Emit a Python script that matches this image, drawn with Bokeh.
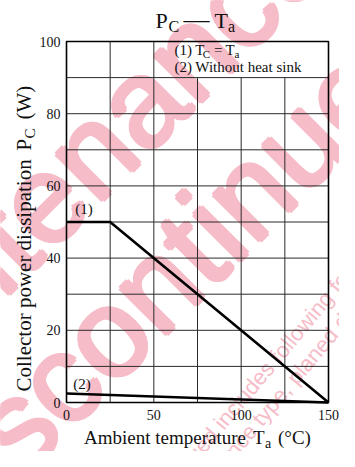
import math
from bokeh.plotting import figure
from bokeh.models import Range1d
from bokeh.core.properties import value
from bokeh.embed import file_html
from bokeh.resources import INLINE

# ---- data ----
ta_case = [0, 25, 150]          # (1) Tc = Ta
pc_case = [50, 50, 0]
ta_free = [0, 150]              # (2) without heat sink
pc_free = [2.5, 0]
x_ticks = [0, 50, 100, 150]
y_ticks = [0, 20, 40, 60, 80, 100]
x_tick_labels = ["0", "50", "100", "150"]
y_tick_labels = ["0", "20", "40", "60", "80", "100"]
x_grid = [25, 50, 75, 100, 125]
y_grid = [10, 20, 30, 40, 50, 60, 70, 80, 90]
legend_box = (50, 90)           # grid left open above/right of this corner
XMAX, YMAX = 150, 100

# ---- layout ----
W, H = 339, 451
CX0, CX1 = 66, 328              # canvas x of data 0 / XMAX
CY0, CY1 = 402, 41              # canvas y of data 0 / YMAX
KX = XMAX / (CX1 - CX0)
KY = YMAX / (CY0 - CY1)
DESC = 0.25                     # baseline correction (fraction of font size)


def cx(px):   # canvas x -> data x
    return (px - CX0) * KX


def cy(py):   # canvas y -> data y
    return (CY0 - py) * KY


def rx(px):   # reference-picture x -> data x
    return (px - 70) * XMAX / 272


def ry(py):   # reference-picture y -> data y
    return (412 - py) * YMAX / 370


p = figure(width=W, height=H,
           x_range=Range1d(cx(0), cx(W)), y_range=Range1d(cy(H), cy(0)),
           x_axis_type=None, y_axis_type=None,
           output_backend="svg", toolbar_location=None, min_border=0)
p.background_fill_color = "white"
p.border_fill_color = "white"
p.outline_line_color = None

SERIF = "Liberation Serif"
SANS = "Liberation Sans"
INK = "#111111"
PINK = "#f6bcc8"


def txt(text, x, y, size, angle=0.0, align="left", font=SERIF, color=INK, alpha=1.0):
    # shift the anchor so that the drawn baseline lands on (x, y)
    sx = -math.sin(angle) * DESC * size * KX
    sy = math.cos(angle) * DESC * size * KY
    p.text(x=[x + sx], y=[y + sy], text=[text], angle=angle,
           text_font=value(font), text_font_size=value(f"{size}px"),
           text_color=color, text_alpha=alpha,
           text_align=align, text_baseline="alphabetic")


# ---- watermark (drawn first, underneath everything) ----
wm_big = [("Maintenance/", 91, 201), ("Discontinued", 193, 303)]
for t, px, py in wm_big:
    for ox, oy in [(0, 0), (3, 0), (0, 3), (3, 3)]:
        txt(t, rx(px + ox), ry(py + oy), 125, angle=math.pi / 4, align="center",
            font=SANS, color=PINK)
wm_small = [("Maintenance/Discontinued includes following four Product lifecycle stage.", 293, 368),
            ("(planed maintenance type, maintenance type, planed discontinued typed, discontinued type)", 306, 396)]
for t, px, py in wm_small:
    txt(t, rx(px), ry(py), 22, angle=math.radians(50), align="center", font=SANS, color=PINK)

# ---- grid ----
GRID = "#2a2a2a"
bx, by = legend_box
p.segment(x0=x_grid, y0=[0] * len(x_grid), x1=x_grid,
          y1=[YMAX if x <= bx else by for x in x_grid],
          line_color=GRID, line_width=1)
p.segment(x0=[0] * len(y_grid), y0=y_grid, x1=[XMAX] * len(y_grid), y1=y_grid,
          line_color=GRID, line_width=1)

# ---- curves ----
p.line(ta_case, pc_case, line_color="black", line_width=2.6)
p.line(ta_free, pc_free, line_color="black", line_width=2.6)

# ---- frame ----
p.quad(left=[0], right=[XMAX], bottom=[0], top=[YMAX],
       fill_color=None, line_color="black", line_width=1.6)

# ---- tick labels ----
p.text(x=x_ticks, y=[cy(CY0 + 7)] * len(x_ticks), text=x_tick_labels,
       text_font=value(SERIF), text_font_size=value("14px"), text_color=INK,
       text_align="center", text_baseline="top")
p.text(x=[cx(CX0 - 6)] * len(y_ticks), y=y_ticks, text=y_tick_labels,
       text_font=value(SERIF), text_font_size=value("14px"), text_color=INK,
       text_align="right", text_baseline="middle")

# curve tags (inside the frame, reference positions)
txt("(1)", rx(79), ry(218), 15)
txt("(2)", rx(77), ry(397), 15)

# legend (inside the frame)
txt("(1) T", rx(182), ry(55), 15)
txt("C", rx(211.5), ry(58), 11)
txt("=", rx(223), ry(55), 15)
txt("T", rx(235), ry(55), 15)
txt("a", rx(244.5), ry(58), 11)
txt("(2) Without heat sink", rx(182), ry(72), 15)

# title (centred over the frame)
tdx = (CX0 + CX1) / 2 - 206
txt("P", cx(164 + tdx), cy(25), 22)
txt("C", cx(177 + tdx), cy(30), 16)
txt("\u2014", cx(192 + tdx), cy(25), 26)
txt("T", cx(223 + tdx), cy(25), 22)
txt("a", cx(236.5 + tdx), cy(29.5), 16)

# x-axis title
xdx = (CX0 + CX1) / 2 - 206.5
txt("Ambient temperature", cx(93 + xdx), cy(442), 19)
txt("T", cx(262 + xdx), cy(442), 19)
txt("a", cx(274 + xdx), cy(446), 14)
txt("(\u00b0C)", cx(287 + xdx), cy(442), 19)

# y-axis title (rotated)
up = math.pi / 2
ydy = CY0 - 412
txt("Collector power dissipation", cx(29), cy(401 + ydy), 21, up)
txt("P", cx(29), cy(160 + ydy), 21, up)
txt("C", cx(33), cy(148 + ydy), 15, up)
txt("(W)", cx(29), cy(129 + ydy), 21, up)

open("out.html", "w").write(file_html(p, INLINE))
